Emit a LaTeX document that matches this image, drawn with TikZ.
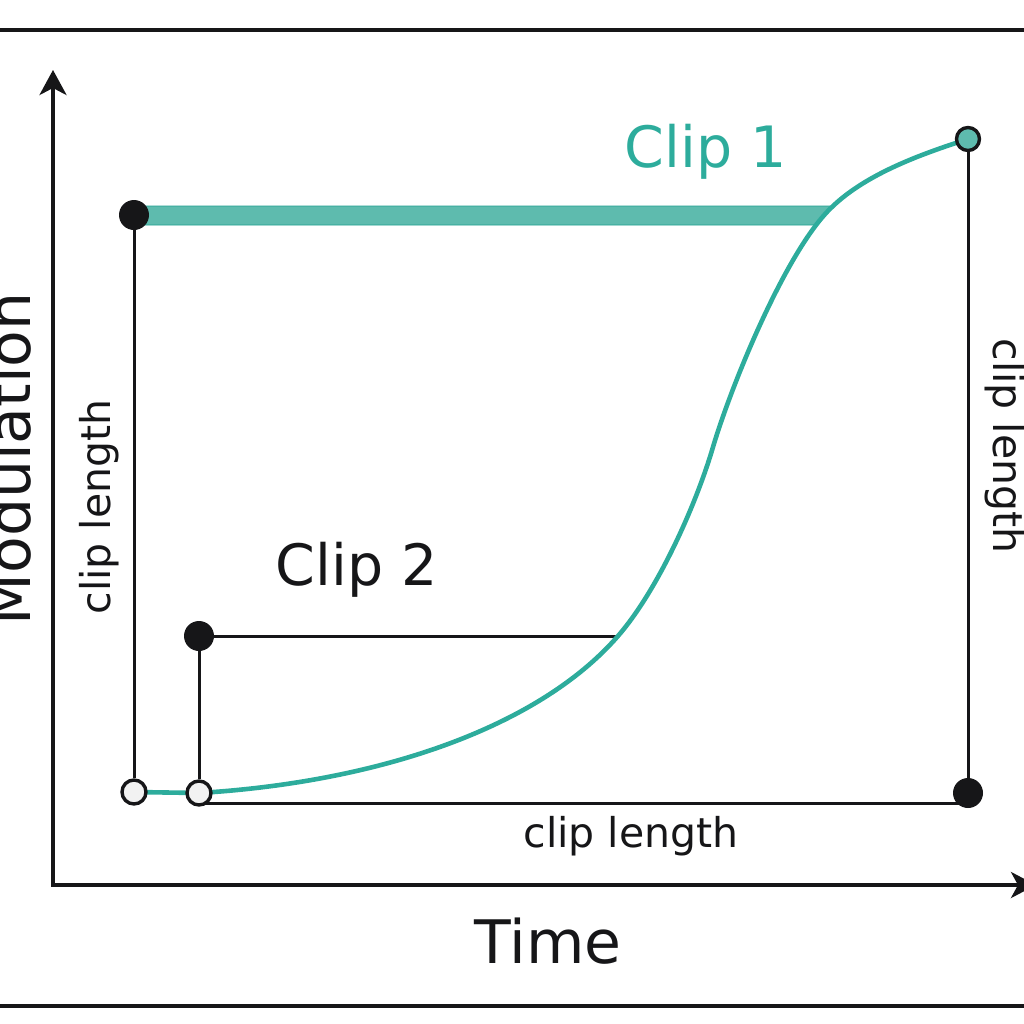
\documentclass[tikz,border=0pt]{standalone}
\usepackage{fontspec}
\setmainfont{DejaVu Sans}
\usetikzlibrary{arrows.meta}
\definecolor{tealC}{RGB}{45,172,156}
\definecolor{tealL}{RGB}{94,187,174}
\definecolor{tealD}{RGB}{30,160,145}
\definecolor{ink}{RGB}{22,22,24}
\definecolor{paleg}{RGB}{242,242,242}
\pgfdeclarelayer{bg}
\pgfsetlayers{bg,main}
\tikzset{
  frameline/.style={draw=ink, line width=1.9pt},
  axisline/.style={draw=ink, line width=1.8pt, line join=miter},
  guide/.style={draw=ink, line width=1.5pt},
  curveline/.style={draw=tealC, line width=2.3pt},
  bardraw/.style={fill=tealL, draw=tealD, line width=0.4pt},
  blackdot/.style={circle, fill=ink, inner sep=0pt, minimum size=15pt},
  opendot/.style={circle, draw=ink, fill=paleg, line width=1.7pt, inner sep=0pt, minimum size=12pt},
  tealdot/.style={circle, draw=ink, fill=tealL, line width=1.7pt, inner sep=0pt, minimum size=11.5pt},
  bigtxt/.style={font=\fontsize{28.5}{34}\selectfont, inner sep=0pt, anchor=base},
  axtxt/.style={font=\fontsize{30}{36}\selectfont, inner sep=0pt, anchor=base, text=ink},
  smalltxt/.style={font=\fontsize{20.5}{25}\selectfont, inner sep=0pt, anchor=base, text=ink},
}
\begin{document}
\begin{tikzpicture}[x=0.5pt,y=-0.5pt]
\useasboundingbox (0,0) rectangle (1024,1024);
\clip (0,0) rectangle (1024,1024);
% frame lines
\coordinate (fTL) at (-10,30);
\coordinate (fTR) at (1034,30);
\coordinate (fBL) at (-10,1006);
\coordinate (fBR) at (1034,1006);
\draw[frameline] (fTL) -- (fTR);
\draw[frameline] (fBL) -- (fBR);
% axes
\coordinate (O) at (53,885);
\coordinate (ytip) at (53,70);
\coordinate (xtip) at (1036,885);
\draw[axisline, {Stealth[length=12.5pt,width=13.5pt,inset=3.5pt]}-{Stealth[length=12.5pt,width=13pt,inset=3.5pt]}] (ytip) -- (O) -- (xtip);
% points
\node[blackdot] (c1top) at (134,215) {};
\node[opendot] (c1bot) at (134,792) {};
\node[blackdot] (c2top) at (199,636) {};
\node[opendot] (c2bot) at (199,793) {};
\node[blackdot] (brdot) at (968,793) {};
\node[tealdot] (trdot) at (968,139) {};
\coordinate (c2end) at (618,636);
\coordinate (infl) at (713,447);
\coordinate (barcut) at (832,207);
\coordinate (baseL) at (199,803);
\coordinate (baseR) at (968,803);
\begin{pgfonlayer}{bg}
  % clip 1 bar
  \path[bardraw] (134,206) -- (833,206) -- (816,225) -- (134,225) -- cycle;
  % guides
  \draw[guide] (c1top) -- (c1bot);
  \draw[guide] (c2top) -- (c2bot);
  \draw[guide] (c2top) -- (c2end);
  \draw[guide] (baseL) -- (baseR);
  \draw[guide] (brdot) -- (trdot);
  % teal curve
  \draw[curveline] (c1bot.center) -- (c2bot.center)
     .. controls (380,782) and (539,727) .. (c2end)
     .. controls (658,590) and (696,505) .. (infl)
     .. controls (733,380) and (788,248) .. (barcut)
     .. controls (868,172) and (928,152) .. (trdot.center);
\end{pgfonlayer}
% labels
\node[bigtxt, text=tealC] (lab1) at (706,167) {Clip 1};
\node[bigtxt, text=ink] (lab2) at (357,585) {Clip 2};
\node[smalltxt] (lenB) at (631,847) {clip length};
\node[smalltxt, rotate=90] (lenL) at (110,507) {clip length};
\node[smalltxt, rotate=-90] (lenR) at (993,446) {clip length};
\node[axtxt] (timeL) at (548,963) {Time};
\node[axtxt, rotate=90] (modL) at (31,459) {Modulation};
\end{tikzpicture}
\end{document}
